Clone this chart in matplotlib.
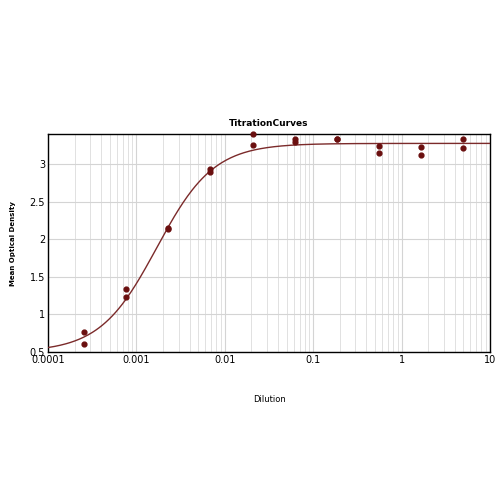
import matplotlib.pyplot as plt
import numpy as np

# 3-fold dilution series, duplicate wells
dilution = [0.000254, 0.000762, 0.00229, 0.00686, 0.0206, 0.0617, 0.185, 0.556, 1.667, 5.0]
od_rep1 = [0.76, 1.34, 2.15, 2.93, 3.40, 3.33, 3.34, 3.24, 3.23, 3.33]
od_rep2 = [0.60, 1.23, 2.14, 2.90, 3.26, 3.29, 3.34, 3.15, 3.12, 3.22]

# 4-parameter logistic fit parameters
fit_bottom = 0.5
fit_top = 3.275
fit_ec50 = 0.0017
fit_hill = 1.35


def four_pl(x):
    return fit_top + (fit_bottom - fit_top) / (1 + (x / fit_ec50) ** fit_hill)


plt.rcParams['font.family'] = 'DejaVu Sans'
fig = plt.figure(figsize=(5, 5), dpi=100)
ax = fig.add_axes([0.096, 0.296, 0.884, 0.436])

xs = np.logspace(-4, 1, 400)
ax.plot(xs, four_pl(xs), color='#7b2a2a', lw=1.0, zorder=3)
ax.scatter(dilution, od_rep1, s=12, color='#6a0f0f', zorder=4, clip_on=False)
ax.scatter(dilution, od_rep2, s=12, color='#6a0f0f', zorder=4, clip_on=False)

ax.set_xscale('log')
ax.set_xlim(0.0001, 10)
ax.set_ylim(0.5, 3.4)
ax.set_yticks([0.5, 1, 1.5, 2, 2.5, 3])
ax.set_yticklabels(['0.5', '1', '1.5', '2', '2.5', '3'])
ax.set_xticks([0.0001, 0.001, 0.01, 0.1, 1, 10])
ax.set_xticklabels(['0.0001', '0.001', '0.01', '0.1', '1', '10'])

ax.grid(True, which='major', color='#d4d4d4', lw=0.8)
ax.grid(True, which='minor', axis='x', color='#dcdcdc', lw=0.6)
ax.tick_params(which='both', length=0, labelsize=7, pad=2)

for s in ax.spines.values():
    s.set_color('black')
    s.set_linewidth(1.0)

ax.set_title('TitrationCurves', fontsize=6.5, fontweight='bold', pad=6)
ax.set_xlabel('Dilution', fontsize=6, labelpad=22)
fig.text(0.026, 0.514, 'Mean Optical Density', fontsize=5, fontweight='bold',
         rotation=90, ha='center', va='center')

fig.savefig('out.png', dpi=100)
